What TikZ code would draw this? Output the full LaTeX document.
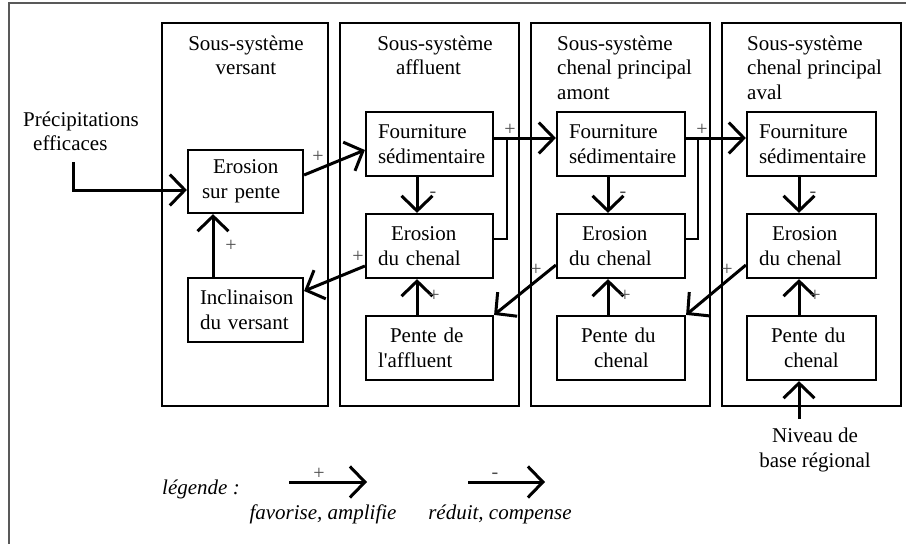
\documentclass[tikz,border=0pt]{standalone}
\usepackage{fontspec}
\setmainfont{Liberation Serif}
\usetikzlibrary{arrows.meta}
\begin{document}
\begin{tikzpicture}[x=1pt,y=-1pt,
  every node/.style={font=\fontsize{21}{24.5}\selectfont},
  sysbox/.style={draw,line width=2.2pt,inner sep=0pt,minimum width=179pt,minimum height=383pt},
  itembox/.style={draw,line width=2.2pt,inner ysep=0pt,inner xsep=12pt,align=left,
                  text width=#1-24pt,minimum height=64pt},
  link/.style={line width=3pt,-{Straight Barb[length=15pt,width=31pt]}},
  feed/.style={line width=2.5pt},
  sign/.style={font=\fontsize{20}{20}\selectfont,text=black!70,inner sep=0pt},
  title/.style={align=center,inner sep=0pt,anchor=base},
  ltitle/.style={align=left,inner sep=0pt,anchor=base west},
  legendtext/.style={font=\fontsize{21}{24.5}\selectfont\itshape,inner sep=0pt,anchor=base}
]
\useasboundingbox (0,0) rectangle (906,544);
% frame
\draw[black!65,line width=1.5pt] (9,544) -- (9,3) -- (906,3);

% sub-systems
\node[sysbox,minimum width=166pt] (s1) at (245,214.5) {};
\node[sysbox] (s2) at (429.5,214.5) {};
\node[sysbox] (s3) at (620.5,214.5) {};
\node[sysbox] (s4) at (811.5,214.5) {};

% titles (a multi-line node sits on the baseline of its last line)
\node[title] (t1) at (246,74.5) {Sous-système\\versant};
\node[title] (t2) at (435,74.5) {Sous-système\\affluent\hspace*{13pt}};
\node[ltitle] (t3) at (557,99) {Sous-système\\chenal principal\\amont};
\node[ltitle] (t4) at (747,99) {Sous-système\\chenal principal\\aval};

% versant
\node[itembox=115pt,minimum height=63pt] (eros) at (245.5,181.5) {\hspace*{13pt}Erosion\\\hspace*{2pt}sur pente};
\node[itembox=115pt] (incl) at (245.5,310) {Inclinaison\\du versant};

% affluent
\node[itembox=127pt] (f2) at (429.5,144) {Fourniture\\sédimentaire};
\node[itembox=127pt] (e2) at (429.5,246) {\hspace*{13pt}Erosion\\du chenal};
\node[itembox=127pt] (p2) at (429.5,348) {\hspace*{12pt}Pente de\\l\textquotesingle affluent};

% chenal principal amont
\node[itembox=128pt] (f3) at (621,144) {Fourniture\\sédimentaire};
\node[itembox=128pt] (e3) at (621,246) {\hspace*{13pt}Erosion\\du chenal};
\node[itembox=128pt] (p3) at (621,348) {\hspace*{12pt}Pente du\\\hspace*{25pt}chenal};

% chenal principal aval
\node[itembox=129pt] (f4) at (811.5,144) {Fourniture\\sédimentaire};
\node[itembox=129pt] (e4) at (811.5,246) {\hspace*{13pt}Erosion\\du chenal};
\node[itembox=129pt] (p4) at (811.5,348) {\hspace*{12pt}Pente du\\\hspace*{25pt}chenal};

% external inputs
\node[ltitle] (prec) at (23,150.5) {Précipitations\\\hspace*{10pt}efficaces};
\coordinate (pc) at (73,162);
\node[title] (niv) at (815,467) {Niveau de\\base régional};
\coordinate (nb) at (799,419);

% links
\draw[link] (pc) |- ([yshift=-8.5pt]eros.west);
\draw[link] ([yshift=6.5pt]eros.east) -- ([yshift=-6pt]f2.west);
\node[sign] at (318,157) {+};
\draw[link] ([xshift=-32.5pt]incl.north) -- ([xshift=-32.5pt]eros.south);
\node[sign] at (231,246) {+};

\draw[link] ([xshift=-12.5pt]f2.south) -- ([xshift=-12.5pt]e2.north);
\node[sign] at (433,195) {-};
\draw[link] ([xshift=-12.5pt]p2.north) -- ([xshift=-12.5pt]e2.south);
\node[sign] at (434,296) {+};
\draw[link] ([yshift=-20pt]e2.west) -- ([yshift=19pt]incl.east);
\node[sign] at (358,257) {+};

\coordinate (j2) at ([xshift=13pt,yshift=6pt]f2.east);
\draw[link] ([yshift=6pt]f2.east) -- ([yshift=6pt]f3.west);
\draw[feed] ([yshift=7pt]e2.east) -| (j2);
\node[sign] at (510,130) {+};

\draw[link] ([xshift=-13pt]f3.south) -- ([xshift=-13pt]e3.north);
\node[sign] at (623,195) {-};
\draw[link] ([xshift=-13pt]p3.north) -- ([xshift=-13pt]e3.south);
\node[sign] at (625,296) {+};
\draw[link] ([yshift=-19pt]e3.west) -- (p2.north east);
\node[sign] at (536,270) {+};

\coordinate (j3) at ([xshift=12pt,yshift=6pt]f3.east);
\draw[link] ([yshift=6pt]f3.east) -- ([yshift=6pt]f4.west);
\draw[feed] ([yshift=7pt]e3.east) -| (j3);
\node[sign] at (702,130) {+};

\draw[link] ([xshift=-12.5pt]f4.south) -- ([xshift=-12.5pt]e4.north);
\node[sign] at (813,195) {-};
\draw[link] ([xshift=-12.5pt]p4.north) -- ([xshift=-12.5pt]e4.south);
\node[sign] at (815,296) {+};
\draw[link] ([yshift=-19pt]e4.west) -- (p3.north east);
\node[sign] at (727,270) {+};
\draw[link] (nb) -- ([xshift=-12.5pt]p4.south);

% legend
\node[legendtext,anchor=base west] (leg) at (162,494) {légende :};
\coordinate (la1) at (289,482);
\coordinate (la2) at (367,482);
\draw[link] (la1) -- (la2);
\node[sign] at (319,474) {+};
\node[legendtext] (lfav) at (323,519) {favorise, amplifie};
\coordinate (lb1) at (468,482);
\coordinate (lb2) at (545,482);
\draw[link] (lb1) -- (lb2);
\node[sign] at (495,476) {-};
\node[legendtext] (lred) at (500,519) {réduit, compense};
\end{tikzpicture}
\end{document}
